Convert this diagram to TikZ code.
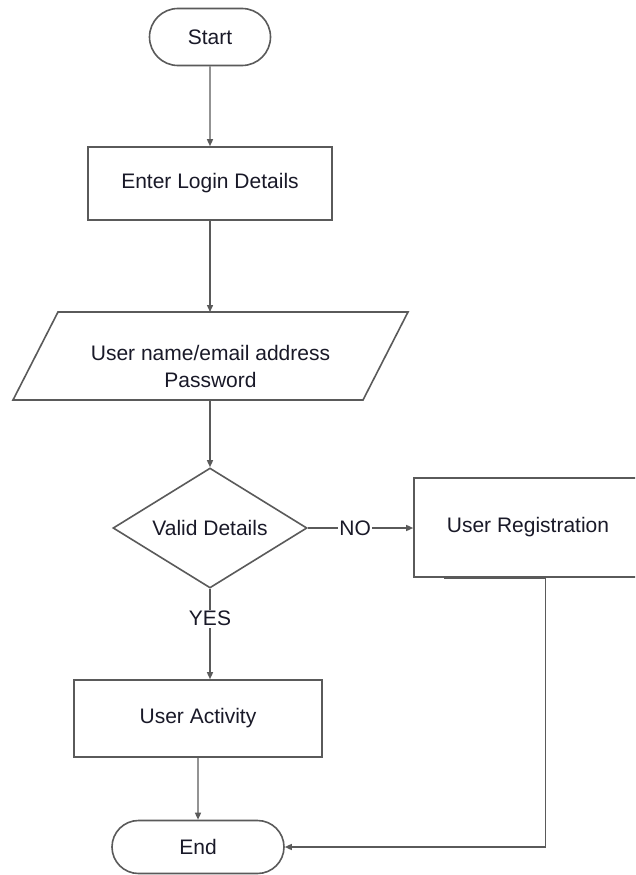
\documentclass[tikz,border=0pt]{standalone}
\usepackage{fontspec}
\setmainfont{Liberation Sans}
\usetikzlibrary{shapes.misc,shapes.geometric,arrows.meta}
\definecolor{lncol}{RGB}{90,90,90}
\definecolor{txtcol}{RGB}{25,25,40}
\begin{document}
\begin{tikzpicture}[x=1pt,y=-1pt,
  every node/.style={font=\fontsize{21}{27}\selectfont, text=txtcol},
  shapeln/.style={draw=lncol, line width=1.6pt},
  term/.style={shapeln, rounded rectangle, inner sep=0pt},
  box/.style={shapeln, rectangle, inner sep=0pt},
  arr/.style={draw=lncol, line width=1.4pt, -{Triangle[length=7pt,width=6pt]}},
  lbl/.style={fill=white, inner sep=1.5pt}
]
\clip (0,0) rectangle (635,875);
\fill[white] (0,0) rectangle (635,875);

\node[term, minimum width=121pt, minimum height=57pt] (start) at (210,37) {Start};
\node[box, minimum width=244pt, minimum height=73pt] (enter) at (210,183.5) {Enter Login Details};

\draw[shapeln] (58,312) -- (408,312) -- (363,400) -- (13,400) -- cycle;
\node[align=center] (cred) at (210.5,366) {User name/email address\\Password};
\coordinate (credtop) at (210,312);
\coordinate (credbot) at (210,400);

\node[shapeln, diamond, aspect=1.62, inner sep=0pt, minimum width=194pt, minimum height=120pt] (valid) at (210,528) {Valid Details};
\node[box, minimum width=228pt, minimum height=99pt] (reg) at (528,527.5) {User Registration};
\node[box, minimum width=248pt, minimum height=77pt] (act) at (198,718.5) {User Activity};
\node[term, minimum width=172pt, minimum height=53pt] (end) at (198,847) {End};

\draw[arr] (start) -- (enter);
\draw[arr] (enter) -- (credtop);
\draw[arr] (credbot) -- (valid);
\draw[arr] (valid.east) -- node[lbl, pos=0.45] {NO} (valid.east -| reg.west);
\draw[arr] (valid.south) -- node[lbl, pos=0.33] {YES} (act.north -| valid.south);
\draw[arr] (act) -- (end);
\draw[arr] ([xshift=31pt]reg.south west) -- ++(101,0) |- (end.east);
\end{tikzpicture}
\end{document}
